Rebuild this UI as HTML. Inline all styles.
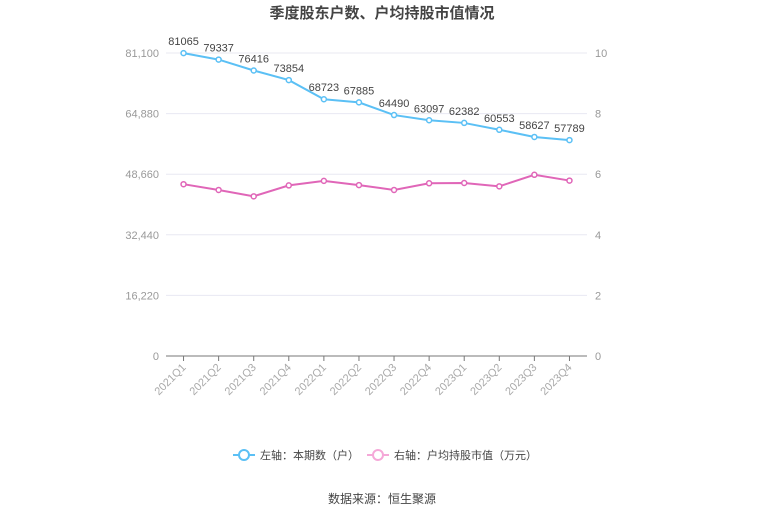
<!DOCTYPE html>
<html><head><meta charset="utf-8"><style>
body{margin:0;background:#fff;font-family:"Liberation Sans","Noto Sans CJK SC",sans-serif;}
svg text{font-family:"Liberation Sans","Noto Sans CJK SC",sans-serif;}
</style></head><body>
<svg id="c" width="765" height="517">
<text x="382" y="18" text-anchor="middle" font-size="15" font-weight="bold" fill="#444">季度股东户数、户均持股市值情况</text>
<g id="grid"></g><g id="axes"></g><g id="series"></g>
<g>
<g>
<line x1="233" y1="455" x2="255" y2="455" stroke="#5bc0f5" stroke-width="2"/><circle cx="244" cy="455" r="5" fill="#fff" stroke="#5bc0f5" stroke-width="2"/>
<text x="260" y="459" font-size="11" fill="#444">左轴：本期数（户）</text></g>
<g>
<line x1="367" y1="455" x2="389" y2="455" stroke="#f5a8d8" stroke-width="2"/><circle cx="378" cy="455" r="5" fill="#fff" stroke="#f5a8d8" stroke-width="2"/>
<text x="394" y="459" font-size="11" fill="#444">右轴：户均持股市值（万元）</text></g>
</g>
<text x="382" y="503" text-anchor="middle" font-size="12" fill="#444">数据来源：恒生聚源</text>
</svg>
<script>
const categories=["2021Q1","2021Q2","2021Q3","2021Q4","2022Q1","2022Q2","2022Q3","2022Q4","2023Q1","2023Q2","2023Q3","2023Q4"];
const holders=[81065,79337,76416,73854,68723,67885,64490,63097,62382,60553,58627,57789];
const avgValue=[5.67,5.48,5.27,5.63,5.78,5.64,5.48,5.70,5.71,5.60,5.98,5.79];
const leftTicks=[0,16220,32440,48660,64880,81100];
const rightTicks=[0,2,4,6,8,10];
const NS="http://www.w3.org/2000/svg";
const X0=166,X1=587,Y0=356,Y1=53;
const xs=i=>X0+(X1-X0)/categories.length*(i+0.5);
const yl=v=>Y0-(v/81100)*(Y0-Y1);
const yr=v=>Y0-(v/10)*(Y0-Y1);
function mk(p,tag,a){const e=document.createElementNS(NS,tag);for(const k in a)e.setAttribute(k,a[k]);p.appendChild(e);return e;}
const grid=document.getElementById('grid'),axes=document.getElementById('axes'),ser=document.getElementById('series');
leftTicks.forEach((t,i)=>{
 const y=yl(t);
 if(t>0){const g=mk(grid,'line',{x1:X0,x2:X1,y1:y,y2:y,stroke:'#e8e8f2'});
 
 }
 const tx=mk(axes,'text',{x:159,y:y+4,'text-anchor':'end','font-size':11,fill:'#999'});tx.textContent=t.toLocaleString('en-US');
 
 
});
rightTicks.forEach(t=>{
 const tx=mk(axes,'text',{x:595,y:yr(t)+4,'font-size':11,fill:'#999'});tx.textContent=t;
 
 
});
const ax=mk(axes,'line',{x1:X0,x2:X1,y1:Y0,y2:Y0,stroke:'#777'});


categories.forEach((c,i)=>{
 const x=xs(i);
 mk(axes,'line',{x1:x,x2:x,y1:Y0,y2:Y0+5,stroke:'#777'});
 const t=mk(axes,'text',{x:x+3,y:Y0+12,'text-anchor':'end','font-size':11,fill:'#aaa',transform:`rotate(-45 ${x+3} ${Y0+12})`});t.textContent=c;
 
 
});
function line(vals,f,col,name,labels){
 const p=mk(ser,'polyline',{points:vals.map((v,i)=>xs(i)+','+f(v)).join(' '),fill:'none',stroke:col,'stroke-width':2});
 
 
 vals.forEach((v,i)=>{
  const c=mk(ser,'circle',{cx:xs(i),cy:f(v),r:2.5,fill:'#fff',stroke:col,'stroke-width':1.5});
  
  
  if(labels){const t=mk(ser,'text',{x:xs(i),y:f(v)-8,'text-anchor':'middle','font-size':11,fill:'#444'});t.textContent=v;
  
  }
 });
}
line(holders,yl,'#5bc0f5','holders',true);
line(avgValue,yr,'#e066b8','avg-value',false);
</script>
</body></html>
